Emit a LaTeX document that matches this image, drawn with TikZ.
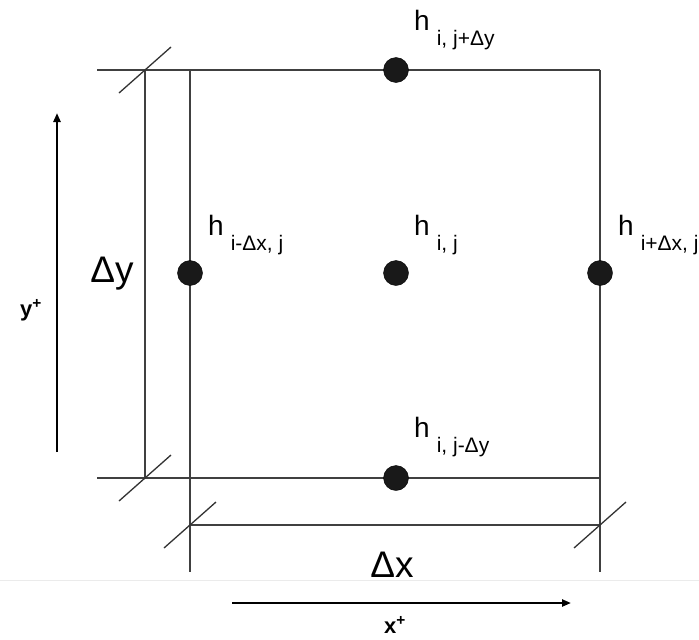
\documentclass[tikz,border=0pt]{standalone}
\usepackage{fontspec}
\setmainfont{Liberation Sans}
\usetikzlibrary{arrows.meta}
\newcommand\hsub[1]{\fontsize{28}{30}\selectfont h\hspace{7pt}\raisebox{-15pt}{\fontsize{21}{22}\selectfont #1}}
\begin{document}
\begin{tikzpicture}[x=1pt,y=-1pt,
  edge/.style={draw=black!75, line width=1.3pt},
  tickmark/.style={draw=black!80, line width=1.3pt},
  dot/.style={circle, fill=black!90, draw=black, inner sep=0pt, minimum size=25pt},
  axis/.style={draw=black, line width=2.2pt, -{Triangle[length=9pt,width=7pt]}},
  hlab/.style={anchor=base west, inner sep=0pt},
  big/.style={inner sep=0pt, anchor=base, font=\fontsize{37}{40}\selectfont},
  axlab/.style={inner sep=0pt, anchor=base, font=\fontsize{22}{24}\selectfont\bfseries},
]
\useasboundingbox (0,0) rectangle (699,640);
\fill[white] (0,0) rectangle (699,640);
% faint separation line
\draw[black!8, line width=0.8pt] (0,580) -- (699,580);

% coordinates
\coordinate (tlx) at (97,70);
\coordinate (tr) at (600,70);
\coordinate (blx) at (97,478);
\coordinate (br) at (600,478);
\coordinate (tl) at (190,70);
\coordinate (bl) at (190,478);
\coordinate (lend) at (190,572);
\coordinate (rend) at (600,572);
\coordinate (dyt) at (145,70);
\coordinate (dyb) at (145,478);
\coordinate (dxl) at (190,525);
\coordinate (dxr) at (600,525);

% box edges and extension lines
\draw[edge] (tlx) -- (tr);
\draw[edge] (blx) -- (br);
\draw[edge] (tl) -- (lend);
\draw[edge] (tr) -- (rend);

% dimension lines
\draw[edge] (dyt) -- (dyb);
\draw[edge] (dxl) -- (dxr);
\foreach \c in {dyt,dyb,dxl,dxr}{
  \draw[tickmark] ([shift={(-26,23)}]\c) -- ([shift={(26,-23)}]\c);
}

% dots
\node[dot] (top) at (396,70) {};
\node[dot] (left) at (190,273) {};
\node[dot] (ctr) at (396,273) {};
\node[dot] (right) at (600,273) {};
\node[dot] (bot) at (396,478) {};

% labels
\node[hlab] (ltop) at (414,30) {\hsub{i, j+Δy}};
\node[hlab] (lleft) at (208,235) {\hsub{i-Δx, j}};
\node[hlab] (lctr) at (414,235) {\hsub{i, j}};
\node[hlab] (lright) at (618,235) {\hsub{i+Δx, j}};
\node[hlab] (lbot) at (414,437) {\hsub{i, j-Δy}};

\node[big] (dy) at (112,282) {Δy};
\node[big] (dx) at (392,577) {Δx};

% axes
\coordinate (ya) at (57,452);
\coordinate (yb) at (57,113);
\coordinate (xa) at (232,603);
\coordinate (xb) at (571,603);
\draw[axis] (ya) -- (yb);
\draw[axis] (xa) -- (xb);
\node[axlab] (yl) at (31,316) {y\textsuperscript{+}};
\node[axlab] (xl) at (395,633) {x\textsuperscript{+}};
\end{tikzpicture}
\end{document}
